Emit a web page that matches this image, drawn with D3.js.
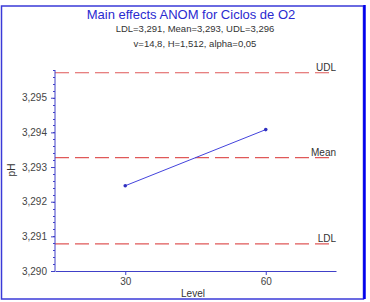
<html>
<head>
  <meta charset="utf-8">
  <script src="https://d3js.org/d3.v7.min.js"></script>
  <style>
    body { margin: 0; background: #fff; }
    text { font-family: "Liberation Sans", Arial, sans-serif; }
  </style>
</head>
<body>
<div id="chart"></div>
<script>
// data
var levels = [30, 60];
var means = [3.29246, 3.29408];
var limitNames = ["UDL", "Mean", "LDL"];
var limitValues = [3.29572, 3.29327, 3.29078];
var yTicks = [3.290, 3.291, 3.292, 3.293, 3.294, 3.295];
var xTicks = [30, 60];

var W = 370, H = 302;
var pLeft = 55, pRight = 336, pTop = 70, pBottom = 271;

var loc = d3.formatLocale({decimal: ",", thousands: ".", grouping: [3], currency: ["", ""]});
var fmt = loc.format(".3f");

var svg = d3.select("#chart").append("svg")
  .attr("width", W).attr("height", H);

// outer frame
svg.append("rect")
  .attr("x", 1.5).attr("y", 6).attr("width", 362).attr("height", 293)
  .attr("fill", "none").attr("stroke", "#3a3ad8").attr("stroke-width", 1.5);
svg.append("line")
  .attr("x1", 364.5).attr("x2", 364.5).attr("y1", 5).attr("y2", 299)
  .attr("stroke", "#0000ee").attr("stroke-width", 2.5);

var x = d3.scaleLinear().domain([15, 75]).range([pLeft, pRight]);
var y = d3.scaleLinear().domain([3.290, 3.2958]).range([pBottom, pTop]);

// titles
svg.append("text").attr("x", 191).attr("y", 19).attr("text-anchor", "middle")
  .attr("font-size", 13).attr("fill", "#2a2ad0")
  .text("Main effects ANOM for Ciclos de O2");
svg.append("text").attr("x", 195).attr("y", 32).attr("text-anchor", "middle")
  .attr("font-size", 9.5).attr("fill", "#333")
  .text("LDL=" + fmt(limitValues[2]) + ", Mean=" + fmt(limitValues[1]) + ", UDL=" + fmt(limitValues[0]));
svg.append("text").attr("x", 195).attr("y", 47).attr("text-anchor", "middle")
  .attr("font-size", 9.5).attr("fill", "#333")
  .text("v=14,8, H=1,512, alpha=0,05");

// limit lines
limitValues.forEach(function(v, i) {
  svg.append("line")
    .attr("x1", pLeft).attr("x2", pRight - 6)
    .attr("y1", y(v)).attr("y2", y(v))
    .attr("stroke", "#e05858").attr("stroke-width", 1.2)
    .attr("stroke-dasharray", "14,6");
  svg.append("text")
    .attr("x", pRight).attr("y", y(v) - 2)
    .attr("text-anchor", "end").attr("font-size", 10).attr("fill", "#333")
    .text(limitNames[i]);
});

// y axis
var minor = d3.range(3.2900, 3.29581, 0.0002);
svg.append("g").selectAll("line").data(minor).enter().append("line")
  .attr("x1", pLeft - 2).attr("x2", pLeft)
  .attr("y1", function(d) { return Math.round(y(d)) + 0.5; })
  .attr("y2", function(d) { return Math.round(y(d)) + 0.5; })
  .attr("stroke", "#4040c8");
var yAxis = svg.append("g").attr("transform", "translate(" + pLeft + ",0)")
  .call(d3.axisLeft(y).tickValues(yTicks).tickFormat(fmt).tickSize(4).tickSizeOuter(0));
yAxis.select(".domain").attr("stroke", "#4040c8").attr("d", "M0," + pTop + "V" + pBottom);
yAxis.selectAll(".tick line").attr("stroke", "#4040c8");
yAxis.selectAll("text").attr("font-size", 10).attr("fill", "#444")
  .attr("font-family", "Liberation Sans, Arial, sans-serif").attr("dx", "-0.1em");

// x axis
var xAxis = svg.append("g").attr("transform", "translate(0," + pBottom + ")")
  .call(d3.axisBottom(x).tickValues(xTicks).tickSize(4).tickSizeOuter(0));
xAxis.select(".domain").attr("stroke", "#4040c8");
xAxis.selectAll(".tick line").attr("stroke", "#4040c8");
xAxis.selectAll("text").attr("font-size", 10).attr("fill", "#444")
  .attr("font-family", "Liberation Sans, Arial, sans-serif");

// axis titles
svg.append("text").attr("x", 193).attr("y", 297).attr("text-anchor", "middle")
  .attr("font-size", 10).attr("fill", "#333").text("Level");
svg.append("text").attr("transform", "translate(15,170) rotate(-90)")
  .attr("text-anchor", "middle").attr("font-size", 10).attr("fill", "#333").text("pH");

// means line
var pts = levels.map(function(l, i) { return [l, means[i]]; });
svg.append("path").datum(pts)
  .attr("d", d3.line().x(function(d) { return x(d[0]); }).y(function(d) { return y(d[1]); }))
  .attr("fill", "none").attr("stroke", "#4444dd").attr("stroke-width", 1);
svg.append("g").selectAll("circle").data(pts).enter().append("circle")
  .attr("cx", function(d) { return x(d[0]); })
  .attr("cy", function(d) { return y(d[1]); })
  .attr("r", 1.8).attr("fill", "#3030c0");
</script>
</body>
</html>
